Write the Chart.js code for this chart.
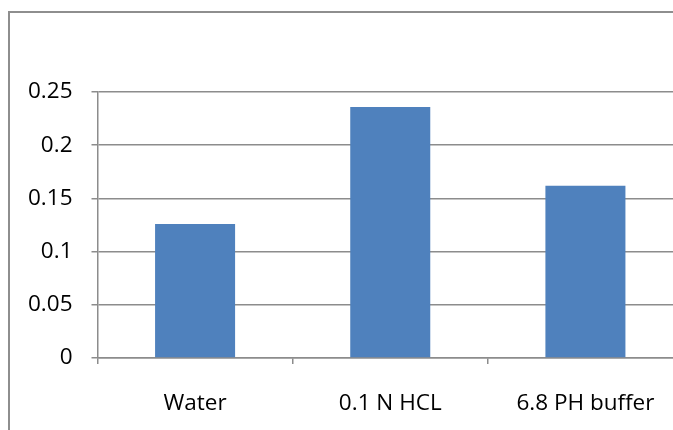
<!DOCTYPE html>
<html>
<head>
<meta charset="utf-8">
<script src="https://cdn.jsdelivr.net/npm/chart.js@4/dist/chart.umd.min.js"></script>
<style>
  html, body { margin: 0; padding: 0; background: #fff; overflow: hidden; }
  #wrap { position: relative; width: 673px; height: 430px; overflow: hidden; }
  #box { position: absolute; left: 0; top: 0; width: 690px; height: 430px; }
</style>
</head>
<body>
<div id="wrap">
  <div id="box"><canvas id="chart"></canvas></div>
</div>
<script>
// datos
const categories = ['Water', '0.1 N HCL', '6.8 PH buffer'];
const values = [0.126, 0.236, 0.162];
const yTicks = [0, 0.05, 0.1, 0.15, 0.2, 0.25];

const container = document.getElementById('chart');
const axisGray = '#8c8c8c';
const fontCfg = { family: '"Open Sans", "Liberation Sans", sans-serif', size: 22.5 };

// marco exterior del grafico (solo se ven el lado izquierdo y el superior)
const outerFrame = {
    id: 'outerFrame',
    beforeDraw(chart) {
        const ctx = chart.ctx;
        ctx.save();
        ctx.strokeStyle = '#8e8e8e';
        ctx.lineWidth = 2;
        ctx.beginPath();
        ctx.moveTo(9, chart.height + 5);
        ctx.lineTo(9, 12);
        ctx.lineTo(chart.width + 5, 12);
        ctx.stroke();
        ctx.restore();
    }
};

new Chart(container, {
    type: 'bar',
    data: {
        labels: categories,
        datasets: [{
            data: values,
            backgroundColor: '#4f81bd',
            borderWidth: 0,
            barPercentage: 0.41,
            categoryPercentage: 1
        }]
    },
    options: {
        responsive: true,
        maintainAspectRatio: false,
        animation: false,
        layout: { padding: { top: 92, right: 7, left: 0, bottom: 0 } },
        plugins: {
            legend: { display: false },
            tooltip: { enabled: false }
        },
        scales: {
            x: {
                grid: {
                    offset: true,
                    drawOnChartArea: false,
                    drawTicks: true,
                    tickLength: 6,
                    lineWidth: 1.5,
                    color: axisGray
                },
                border: { display: true, color: axisGray, width: 1.5 },
                ticks: { color: '#000', font: fontCfg, padding: 26, maxRotation: 0 },
                afterFit: (axis) => { axis.height = 72; }
            },
            y: {
                min: 0,
                max: 0.25,
                afterBuildTicks: (axis) => { axis.ticks = yTicks.map(v => ({ value: v })); },
                grid: { color: axisGray, lineWidth: 1.5, tickLength: 6 },
                border: { display: true, color: axisGray, width: 1.5 },
                ticks: {
                    color: '#000',
                    font: fontCfg,
                    padding: 19,
                    callback: (v) => String(parseFloat(Number(v).toFixed(2)))
                },
                afterFit: (axis) => { axis.width = 97.5; }
            }
        }
    },
    plugins: [outerFrame]
});
</script>
</body>
</html>
